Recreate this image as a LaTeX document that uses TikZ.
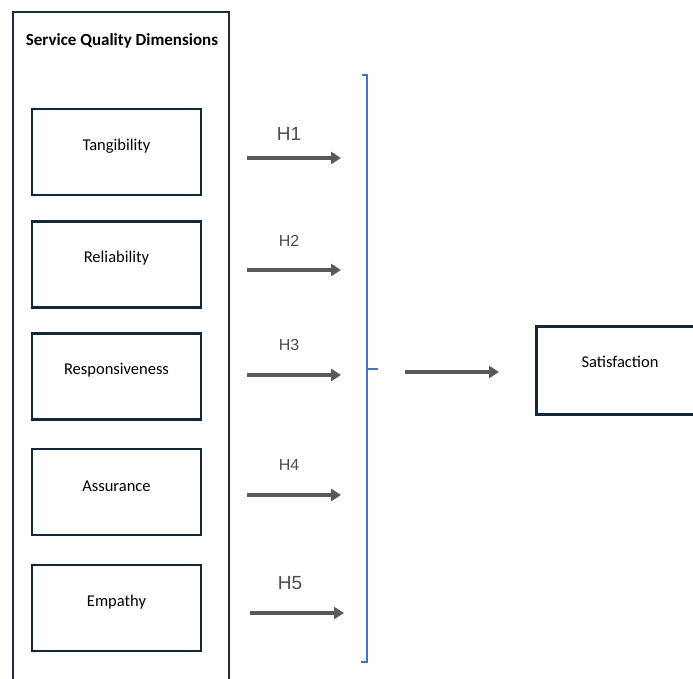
\documentclass[tikz,border=0pt]{standalone}
\usepackage{fontspec}
\setmainfont{Carlito}
\newfontfamily\arialf{Liberation Sans}
\usetikzlibrary{arrows.meta}
\definecolor{navy}{HTML}{1E2B3E}
\definecolor{boxline}{HTML}{12293A}
\definecolor{arrowgray}{HTML}{595959}
\definecolor{brblue}{HTML}{4472C4}
\tikzset{
  dimbox/.style={draw=boxline, line width=2.8pt, minimum width=169pt, minimum height=86pt, inner sep=0pt},
  dimtext/.style={font=\fontsize{16.5}{19}\selectfont, yshift=6pt},
  harrow/.style={draw=arrowgray, line width=3.8pt, -{Triangle[length=10pt,width=12pt]}},
  hlab/.style={font=\arialf\fontsize{16}{18}\selectfont, text=arrowgray!85!black},
  hlabbig/.style={font=\arialf\fontsize{19}{21}\selectfont, text=arrowgray!85!black},
}
\begin{document}
\begin{tikzpicture}[x=1pt,y=-1pt]
\useasboundingbox (0,0) rectangle (693,679);
% outer container
\draw[navy, line width=2.8pt] (13,695) -- (13,12) -- (229,12) -- (229,695);
\node[font=\bfseries\fontsize{17}{20}\selectfont, anchor=center] (title) at (122,41) {Service Quality Dimensions};
% dimension boxes
\node[dimbox, label={[dimtext]center:Tangibility}] (tan) at (116.5,152) {};
\node[dimbox, label={[dimtext]center:Reliability}] (rel) at (116.5,264.5) {};
\node[dimbox, label={[dimtext]center:Responsiveness}] (res) at (116.5,376.5) {};
\node[dimbox, label={[dimtext]center:Assurance}] (ass) at (116.5,492) {};
\node[dimbox, label={[dimtext]center:Empathy}] (emp) at (116.5,608) {};
% hypothesis arrows
\coordinate (a1s) at (247,158); \coordinate (a1e) at (341,158);
\coordinate (a2s) at (247,270); \coordinate (a2e) at (341,270);
\coordinate (a3s) at (247,375); \coordinate (a3e) at (341,375);
\coordinate (a4s) at (247,495); \coordinate (a4e) at (341,495);
\coordinate (a5s) at (250,613); \coordinate (a5e) at (344,613);
\draw[harrow] (a1s) -- (a1e);
\draw[harrow] (a2s) -- (a2e);
\draw[harrow] (a3s) -- (a3e);
\draw[harrow] (a4s) -- (a4e);
\draw[harrow] (a5s) -- (a5e);
\node[hlabbig] (h1) at (289,134) {H1};
\node[hlab] (h2) at (289,241) {H2};
\node[hlab] (h3) at (289,345) {H3};
\node[hlab] (h4) at (289,465) {H4};
\node[hlabbig] (h5) at (290,583) {H5};
% bracket
\coordinate (bt) at (367,75);
\coordinate (bb) at (367,662);
\coordinate (bm) at (367,369);
\draw[brblue, line width=1.1pt] (362,75) -- (bt) -- (bb) -- (361,662);
\draw[brblue, line width=1.1pt] (bm) -- (378,369);
% satisfaction
\node[draw=boxline, line width=2.8pt, minimum width=170pt, minimum height=88pt, anchor=north west, inner sep=0pt] (sat) at (535,325) {};
\node[font=\fontsize{16.5}{19}\selectfont] (sattext) at (620,362) {Satisfaction};
\coordinate (cs) at (405,372);
\coordinate (ce) at (499,372);
\draw[harrow] (cs) -- (ce);
\end{tikzpicture}
\end{document}
